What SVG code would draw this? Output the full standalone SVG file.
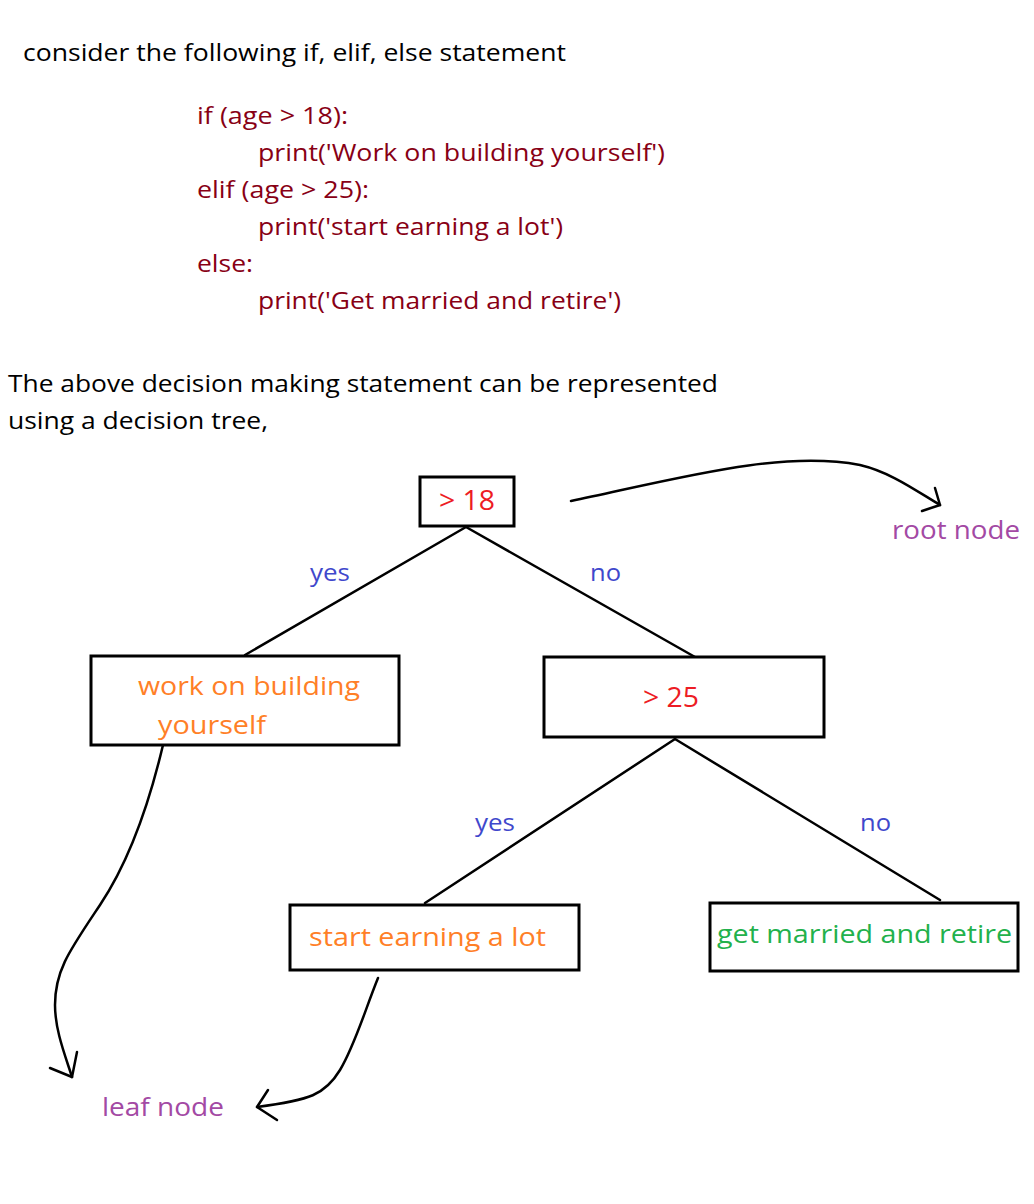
<svg xmlns="http://www.w3.org/2000/svg" width="1034" height="1204" viewBox="0 0 1034 1204">
<style>
text{font-family:"Open Sans","Noto Sans","Liberation Sans",sans-serif}
.hd{font-size:24px;fill:#000}
.code{font-size:24px;fill:#880015}
.box{fill:#fff;stroke:#000;stroke-width:3}
.red{font-size:28px;fill:#ed1c24}
.org{font-size:26px;fill:#ff7f27}
.grn{font-size:26px;fill:#22b14c}
.lbl{font-size:24px;fill:#3f48cc}
.pur{font-size:26px;fill:#a349a4}
.ln{fill:none;stroke:#000;stroke-width:2.5;stroke-linecap:round;stroke-linejoin:round}
</style>
<rect width="1034" height="1204" fill="#fff"/>
<g id="header">
<text class="hd" x="23" y="61" textLength="543" lengthAdjust="spacingAndGlyphs">consider the following if, elif, else statement</text>
<text class="code" x="197" y="124" textLength="151" lengthAdjust="spacingAndGlyphs">if (age &gt; 18):</text>
<text class="code" x="258" y="161" textLength="407" lengthAdjust="spacingAndGlyphs">print('Work on building yourself')</text>
<text class="code" x="197" y="198" textLength="172" lengthAdjust="spacingAndGlyphs">elif (age &gt; 25):</text>
<text class="code" x="258" y="235" textLength="305" lengthAdjust="spacingAndGlyphs">print('start earning a lot')</text>
<text class="code" x="197" y="272" textLength="56" lengthAdjust="spacingAndGlyphs">else:</text>
<text class="code" x="258" y="309" textLength="363" lengthAdjust="spacingAndGlyphs">print('Get married and retire')</text>
<text class="hd" x="8" y="392" textLength="710" lengthAdjust="spacingAndGlyphs">The above decision making statement can be represented</text>
<text class="hd" x="8" y="429" textLength="260" lengthAdjust="spacingAndGlyphs">using a decision tree,</text>
</g>
<g id="connectors">
<line class="ln" x1="466" y1="527" x2="245" y2="655"/>
<line class="ln" x1="466" y1="527" x2="695" y2="657"/>
<line class="ln" x1="675" y1="739" x2="425" y2="903"/>
<line class="ln" x1="675" y1="739" x2="940" y2="900"/>
<text class="lbl" x="310" y="581" textLength="40" lengthAdjust="spacingAndGlyphs">yes</text>
<text class="lbl" x="590" y="581" textLength="31" lengthAdjust="spacingAndGlyphs">no</text>
<text class="lbl" x="475" y="831" textLength="40" lengthAdjust="spacingAndGlyphs">yes</text>
<text class="lbl" x="860" y="831" textLength="31" lengthAdjust="spacingAndGlyphs">no</text>
<path class="ln" d="M571,501 C680,478 780,450 860,465 C890,472 915,490 940,505"/>
<path class="ln" d="M935,488 L940,505 L922,511"/>
<path class="ln" d="M163,745 C150,800 130,860 100,905 C70,950 55,970 55,1005 C55,1030 65,1055 72,1077"/>
<path class="ln" d="M50,1068 L72,1077 L77,1052"/>
<path class="ln" d="M378,978 C365,1010 355,1045 340,1070 C325,1095 310,1100 257,1107"/>
<path class="ln" d="M268,1090 L257,1107 L277,1120"/>
</g>
<g id="node-root">
<rect class="box" x="420" y="477" width="94" height="49"/>
<text class="red" x="439" y="510" textLength="56" lengthAdjust="spacingAndGlyphs">&gt; 18</text>
</g>
<g id="label-root">
<text class="pur" x="892" y="539" textLength="128" lengthAdjust="spacingAndGlyphs">root node</text>
</g>
<g id="node-work">
<rect class="box" x="91" y="656" width="308" height="89"/>
<text class="org" x="138" y="695" textLength="222" lengthAdjust="spacingAndGlyphs">work on building</text>
<text class="org" x="158" y="734" textLength="108" lengthAdjust="spacingAndGlyphs">yourself</text>
</g>
<g id="node-25">
<rect class="box" x="544" y="657" width="280" height="80"/>
<text class="red" x="643" y="707" textLength="56" lengthAdjust="spacingAndGlyphs">&gt; 25</text>
</g>
<g id="node-earn">
<rect class="box" x="290" y="905" width="289" height="65"/>
<text class="org" x="309" y="946" textLength="237" lengthAdjust="spacingAndGlyphs">start earning a lot</text>
</g>
<g id="node-married">
<rect class="box" x="710" y="903" width="308" height="68"/>
<text class="grn" x="717" y="943" textLength="295" lengthAdjust="spacingAndGlyphs">get married and retire</text>
</g>
<g id="label-leaf">
<text class="pur" x="102" y="1116" textLength="122" lengthAdjust="spacingAndGlyphs">leaf node</text>
</g>
</svg>
